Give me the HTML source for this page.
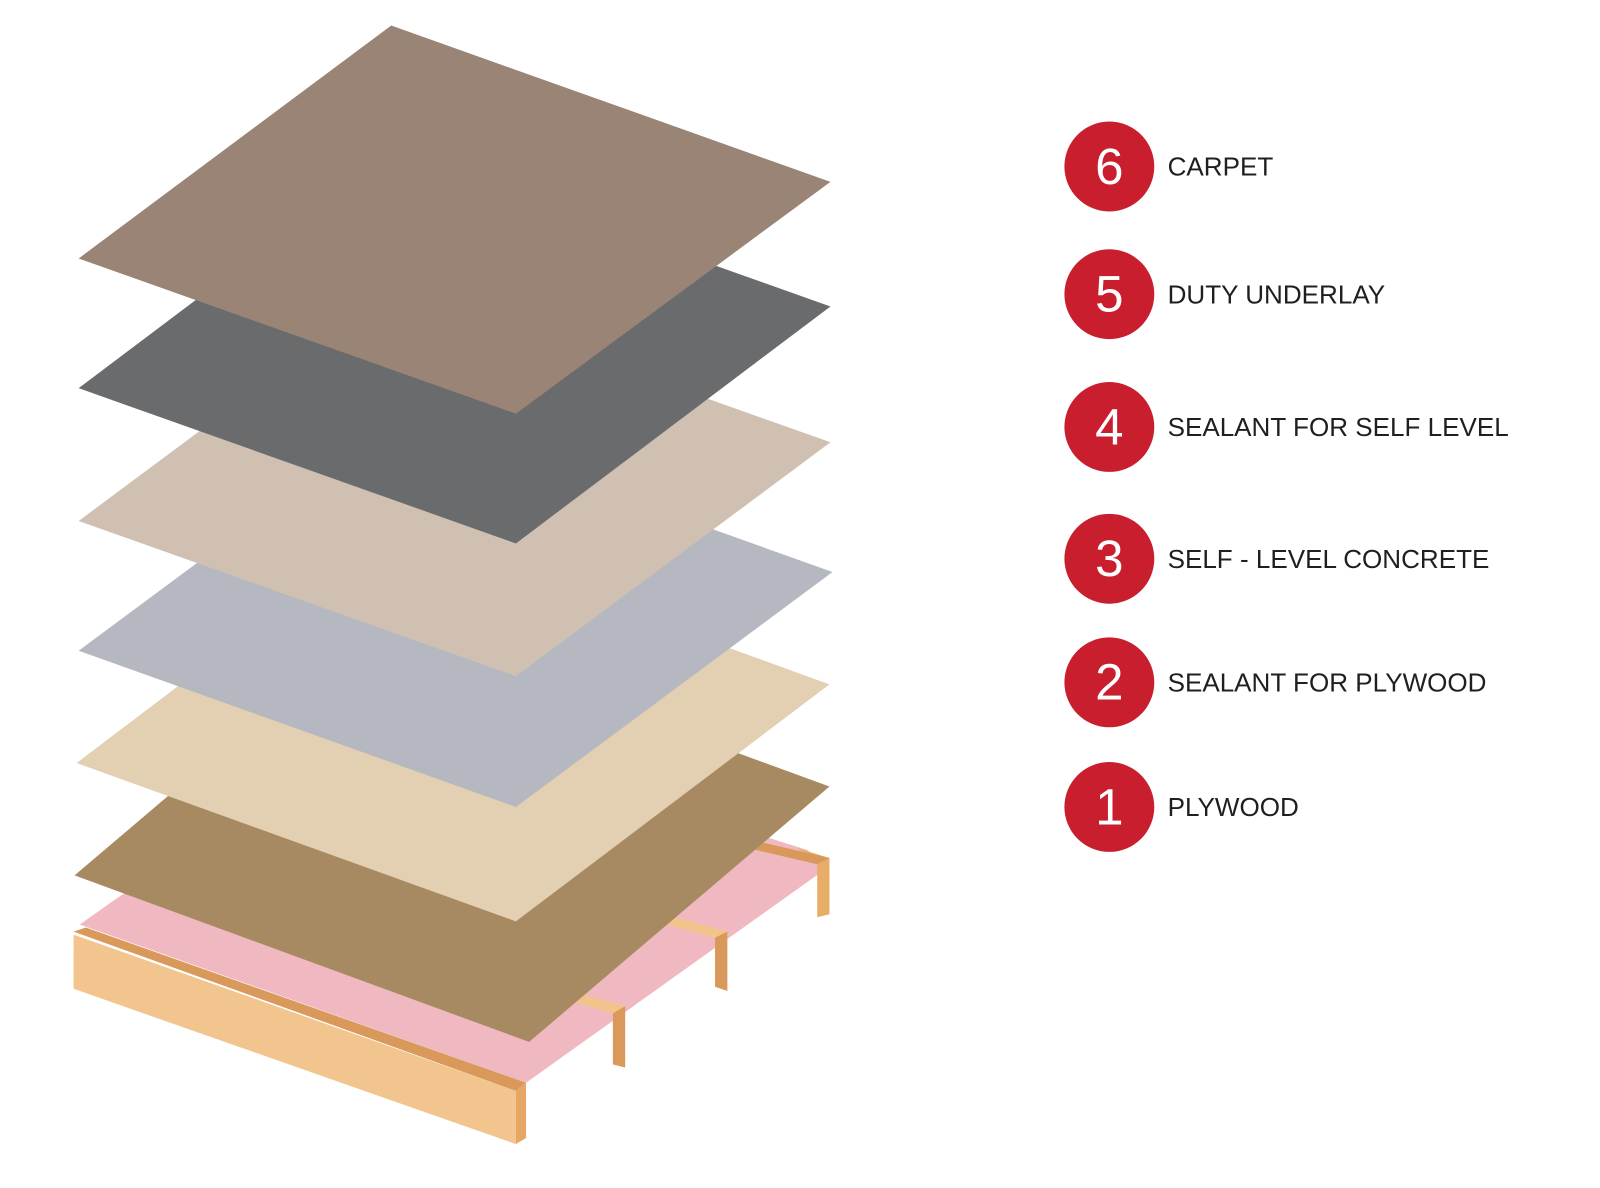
<!DOCTYPE html>
<html><head><meta charset="utf-8"><style>
body{margin:0;background:#fff;width:1600px;height:1163px;overflow:hidden;position:relative;font-family:"Liberation Sans",sans-serif}
#w{position:absolute;left:0;top:0;width:1600px;height:1163px;transform:scale(1.0215);transform-origin:0 0}
.c{position:absolute;left:1042px;width:88px;height:88px;border-radius:50%;background:#c81e2e;color:#fff;font-size:50px;line-height:88px;text-align:center}
.t{position:absolute;left:1143px;font-size:25.5px;color:#1f1f1f;letter-spacing:0;line-height:30px}
</style></head><body><div id="w">
<svg width="1600" height="1163" style="position:absolute;left:0;top:0">
<polygon points="78,905 515,1060 812,848 790,832 370,700" fill="#f0b9c2"/>
<polygon points="780,830 812,840 812,895 800,898 800,845" fill="#e9ad6a"/>
<polygon points="640,800 812,840 800,846 628,806" fill="#d9995a"/>
<polygon points="652,895 712,912 712,970 700,966 700,918 640,902" fill="#f2c38c"/>
<polygon points="700,918 712,912 712,970 700,966" fill="#d9995a"/>
<polygon points="552,968 612,985 612,1045 600,1042 600,992 540,975" fill="#f2c38c"/>
<polygon points="600,992 612,985 612,1045 600,1042" fill="#d9995a"/>
<polygon points="72,912 84,908 515,1060 505,1068" fill="#d9995a"/>
<polygon points="72,915 505,1068 505,1120 72,968" fill="#f2c58f"/>
<polygon points="505,1068 515,1060 515,1114 505,1120" fill="#e6a765"/>
<polygon points="367,607 812,770 518,1020 73,857" fill="#a88a62"/>
<polygon points="382,514 812,670 505,902 75,747" fill="#e3cfb2"/>
<polygon points="387,407 815,560 505,790 77,637" fill="#b5b8c0"/>
<polygon points="385,281 813,433 505,662 77,510" fill="#cfc0b2"/>
<polygon points="385,148 813,300 505,532 77,380" fill="#6a6b6d"/>
<polygon points="383,25 813,178 505,405 77,253" fill="#9a8475"/>
</svg>
<div class="c" style="top:119px">6</div><div class="t" style="top:149px">CARPET</div>
<div class="c" style="top:244px">5</div><div class="t" style="top:274px">DUTY UNDERLAY</div>
<div class="c" style="top:374px">4</div><div class="t" style="top:404px">SEALANT FOR SELF LEVEL</div>
<div class="c" style="top:503px">3</div><div class="t" style="top:533px">SELF - LEVEL CONCRETE</div>
<div class="c" style="top:624px">2</div><div class="t" style="top:654px">SEALANT FOR PLYWOOD</div>
<div class="c" style="top:746px">1</div><div class="t" style="top:776px">PLYWOOD</div>
</div></body></html>
